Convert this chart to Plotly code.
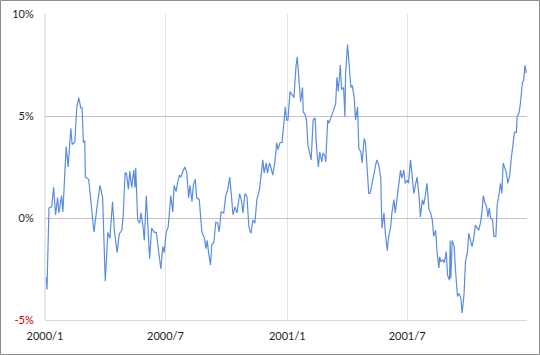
import pandas as pd
import plotly.graph_objects as go

start_date = "2000-01-01"

# days since start_date and the plotted percentage values
days = [2, 3, 6, 10, 13, 16, 19, 21, 25, 27, 32, 35, 39, 41, 45, 48, 51, 54, 56, 58,
        60, 61, 66, 70, 74, 78, 83, 87, 91, 95, 98, 102, 105, 109, 112, 114, 116, 118, 121, 123,
        126, 128, 131, 134, 136, 137, 140, 143, 145, 148, 150, 153, 155, 158, 161, 165, 168, 171, 175, 178,
        180, 183, 186, 190, 193, 195, 198, 200, 203, 205, 208, 211, 214, 217, 219, 222, 224, 227, 229, 233,
        237, 241, 243,
        245, 247, 250, 252, 255, 258, 261, 263, 266, 270, 273, 276, 279, 281, 284, 287, 290, 294, 297, 299,
        302, 305, 308, 311, 314, 317, 320, 324, 326, 329, 331, 334, 336, 339, 341, 344, 347, 350, 352, 355,
        358, 361, 363, 365, 367,
        370, 374, 376, 379, 381, 384, 386, 389, 390, 393, 395, 397, 400, 402, 405, 408, 410, 413, 415, 418,
        420, 423, 424, 427, 429, 432, 434, 437, 439, 441, 443, 446, 448, 451, 453, 454, 457, 459, 462, 464,
        467, 469, 472, 474, 477, 479, 482, 484, 487, 489,
        491, 494, 496, 499, 501, 504, 507, 509, 512, 514, 517, 519, 522, 524, 527, 529, 532, 534, 537, 539,
        542, 544, 547, 549, 552, 554, 557, 560, 562, 565, 567, 570, 572, 575, 577, 580, 582, 585, 587, 590,
        592, 595, 596, 598, 601, 603, 606, 608, 611,
        612, 613, 615, 618, 620, 623, 625, 628, 630, 633, 635, 638, 640, 643, 645, 648, 650, 653, 655, 658,
        660, 662, 664, 667, 669, 671, 673, 676, 678, 681, 683, 686, 688, 690, 692, 694, 697, 699, 702, 704,
        707, 709, 712, 713, 716, 718, 721, 723, 725, 726, 727]

values = [-2.9, -3.5, 0.5, 0.55, 1.5, 0.15, 1.0, 0.25, 1.1, 0.3, 3.5, 2.5, 4.4, 3.6, 3.7, 5.4, 5.9, 5.4, 5.4, 3.7,
          3.8, 2.0, 1.9, 0.55, -0.7, 0.4, 1.6, 1.0, -3.1, -0.7, -1.0, 0.8, -0.7, -1.7, -0.8, -0.7, -0.6, 0.05, 2.2, 2.2,
          1.4, 2.3, 1.5, 2.35, 1.5, 2.45, -0.1, -0.25, 0.25, -0.4, -1.1, 1.1, -0.1, -2.0, -0.5, -0.7, -0.7, -1.6, -2.5, -1.4,
          -1.7, -0.7, -0.45, 1.1, 0.3, 1.6, 1.3, 1.7, 2.1, 2.0, 2.25, 2.5, 2.25, 1.0, 1.6, 0.8, 1.6, 1.9, 1.0, 0.9,
          -0.7, -1.0, -1.5,
          -1.1, -1.7, -2.3, -1.3, -1.2, -0.2, -0.25, -0.7, 0.3, 0.25, 1.1, 1.4, 2.0, 1.3, 0.15, 0.55, 0.25, 1.2, 0.8, 0.25,
          1.2, 1.05, -0.45, -0.75, -0.1, -0.25, 0.9, 1.4, 2.0, 2.85, 2.2, 2.7, 2.2, 2.7, 2.5, 2.1, 2.7, 3.7, 3.35, 3.7,
          3.7, 4.95, 5.45, 4.8, 4.8,
          6.2, 6.0, 5.9, 7.4, 7.9, 6.6, 5.7, 6.4, 5.2, 5.05, 4.8, 3.6, 3.1, 2.85, 4.8, 4.9, 3.5, 2.5, 3.25, 2.75,
          3.2, 3.0, 2.75, 4.8, 4.65, 4.9, 5.15, 5.4, 5.6, 6.9, 6.2, 7.5, 6.3, 6.4, 4.95, 7.1, 8.5, 7.6, 6.4, 6.5,
          5.9, 4.8, 5.45, 3.4, 3.25, 2.7, 3.9, 3.7, 2.2, 1.2,
          1.2, 1.7, 2.0, 2.5, 2.85, 2.6, 2.0, -0.5, 0.25, -0.75, -1.6, -0.9, -0.45, 0.25, 0.9, 0.25, 1.05, 1.4, 2.35, 1.95,
          2.35, 1.7, 1.85, 1.7, 2.85, 2.25, 1.2, 1.7, 2.0, 1.05, 0.05, 0.9, 0.65, 1.2, 1.7, 0.4, 0.3, -0.1, -0.9, -0.6,
          -1.6, -2.45, -1.9, -2.15, -2.05, -2.2, -1.65, -2.8, -3.05,
          -1.1, -2.95, -1.1, -1.4, -2.55, -3.85, -3.7, -3.9, -4.65, -3.7, -2.15, -1.7, -0.75, -1.1, -1.4, -0.9, -0.35, -0.5, -0.6, -0.2,
          0.3, 1.1, 0.8, 0.55, 0.05, 0.5, 0.0, -0.1, -0.9, -0.9, 0.65, 1.2, 1.7, 1.2, 2.7, 2.5, 2.2, 1.7, 2.1, 2.85,
          3.8, 4.2, 4.2, 4.95, 5.15, 5.6, 6.65, 6.75, 7.5, 7.15, 7.1]

x_tick_dates = ["2000-01-01", "2000-07-01", "2001-01-01", "2001-07-01"]
x_tick_labels = ["2000/1", "2000/7", "2001/1", "2001/7"]
y_tick_values = [-5, 0, 5, 10]
y_tick_labels = ["<span style='color:#C00000'>-5%</span>", "0%", "5%", "10%"]

dates = pd.Timestamp(start_date) + pd.to_timedelta(days, unit="D")

W, H = 540, 355
ML, MR, MT, MB = 45, 13, 14, 35
PW, PH = W - ML - MR, H - MT - MB

fig = go.Figure()
fig.add_trace(go.Scatter(x=dates, y=values, mode="lines",
                         line=dict(color="#5B8DDF", width=1.2), hoverinfo="skip"))

font = dict(family="Lato, Carlito, 'Open Sans', sans-serif", size=11, color="#1E1E1E")

fig.update_layout(
    width=W, height=H,
    margin=dict(l=ML, r=MR, t=MT, b=MB, autoexpand=False),
    paper_bgcolor="white", plot_bgcolor="white",
    showlegend=False,
    font=font,
    xaxis=dict(
        type="date", range=["2000-01-01", "2001-12-29"], automargin=False,
        tickmode="array", tickvals=x_tick_dates, ticktext=x_tick_labels,
        showgrid=True, gridcolor="#E2E2E2", gridwidth=1,
        showline=True, linecolor="#D9D9D9", linewidth=1,
        ticks="outside", ticklen=6, tickcolor="rgba(0,0,0,0)",
        zeroline=False, tickfont=font,
    ),
    yaxis=dict(
        range=[-5, 10], automargin=False,
        tickmode="array", tickvals=y_tick_values, ticktext=y_tick_labels,
        showgrid=True, gridcolor="#C4C4C4", gridwidth=1,
        showline=False, zeroline=False,
        ticks="outside", ticklen=8, tickcolor="rgba(0,0,0,0)",
        tickfont=font,
    ),
    shapes=[
        dict(type="rect", xref="paper", yref="paper",
             x0=(0.5 - ML) / PW, x1=(W - 0.5 - ML) / PW,
             y0=-(MB - 0.5) / PH, y1=1 + (MT - 0.5) / PH,
             line=dict(color="#8C8C8C", width=1), fillcolor="rgba(0,0,0,0)", layer="above"),
        dict(type="line", xref="paper", yref="paper", x0=0, x1=0, y0=0, y1=1,
             line=dict(color="#D0D0D0", width=1), layer="below"),
    ],
)

fig.write_html("out.html")
